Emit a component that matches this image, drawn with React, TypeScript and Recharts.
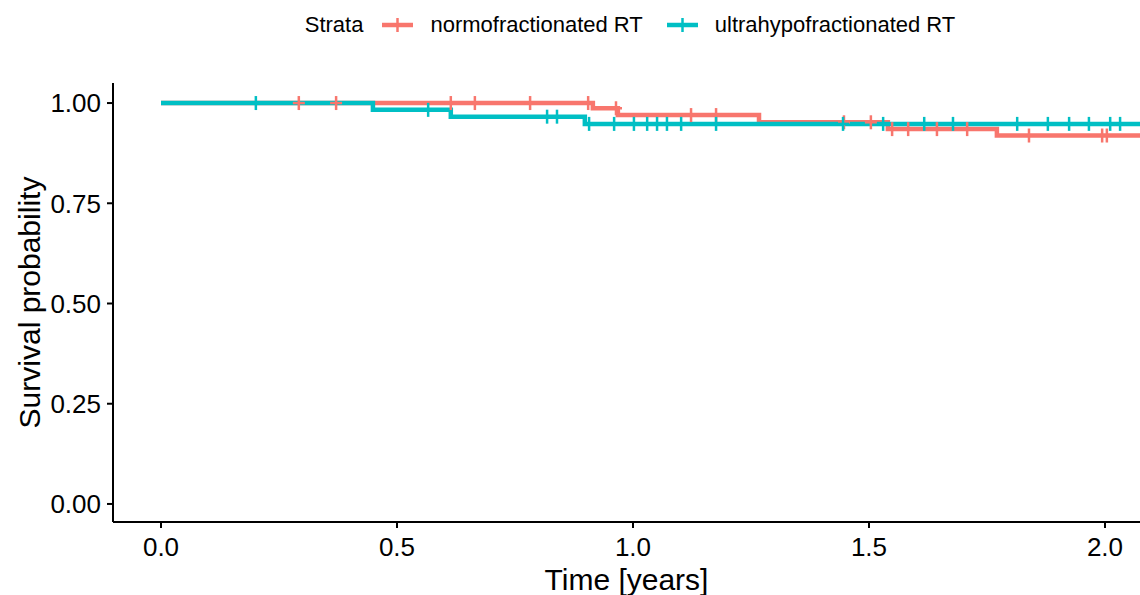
import React from 'react';
import { ComposedChart, Line, Scatter, XAxis, YAxis } from 'recharts';

// Kaplan-Meier step points (time in years, survival probability)
const normoTimes = [0, 0.915, 0.968, 1.267, 1.54, 1.771, 2.1];
const normoSurv = [1, 0.987, 0.97, 0.952, 0.935, 0.919, 0.919];
const normoCensored = [0.292, 0.371, 0.614, 0.665, 0.782, 0.905, 0.964, 1.123, 1.176, 1.447, 1.504, 1.549, 1.583, 1.644, 1.708, 1.839, 1.994, 2.004];

const ultraTimes = [0, 0.449, 0.614, 0.898, 2.1];
const ultraSurv = [1, 0.983, 0.966, 0.948, 0.948];
const ultraCensored = [0.201, 0.566, 0.818, 0.839, 0.907, 0.96, 1.002, 1.03, 1.051, 1.072, 1.102, 1.176, 1.445, 1.53, 1.617, 1.678, 1.814, 1.879, 1.924, 1.966, 2.011, 2.032];

const strata = ['normofractionated RT', 'ultrahypofractionated RT'];
const COLORS = ['#F8766D', '#00BFC4'];

const xTicks = [0, 0.5, 1, 1.5, 2];
const yTicks = [0, 0.25, 0.5, 0.75, 1];

const FONT = '"Liberation Sans", Arial, Helvetica, sans-serif';

const toSteps = (times: number[], surv: number[]) => times.map((t, i) => ({ t, s: surv[i] }));

// survival level the curve holds at time t
const levelAt = (times: number[], surv: number[], t: number) => {
  let s = surv[0];
  times.forEach((tt, i) => {
    if (tt <= t) s = surv[i];
  });
  return s;
};

const toCensor = (times: number[], surv: number[], cens: number[]) =>
  cens.map((t) => ({ t, s: levelAt(times, surv, t) }));

const series = [
  { name: strata[0], color: COLORS[0], steps: toSteps(normoTimes, normoSurv), censor: toCensor(normoTimes, normoSurv, normoCensored) },
  { name: strata[1], color: COLORS[1], steps: toSteps(ultraTimes, ultraSurv), censor: toCensor(ultraTimes, ultraSurv, ultraCensored) },
];

const CensorMark = (color: string) => (props: any) => {
  const { cx, cy } = props;
  if (cx == null || cy == null) return <g />;
  return (
    <g>
      <line x1={cx} x2={cx} y1={cy - 7} y2={cy + 7} stroke={color} strokeWidth={2.5} />
      <line x1={cx - 6} x2={cx + 6} y1={cy} y2={cy} stroke={color} strokeWidth={2.5} />
    </g>
  );
};

const LegendKey = ({ color }: { color: string }) => (
  <svg width={31} height={20} style={{ display: 'block' }}>
    <line x1={0} x2={31} y1={10} y2={10} stroke={color} strokeWidth={4.5} />
    <line x1={15.5} x2={15.5} y1={3} y2={17} stroke={color} strokeWidth={2.5} />
  </svg>
);

const App: React.FC = () => {
  return (
    <div style={{ position: 'absolute', left: 0, top: 0, width: 1140, height: 595, background: '#fff', fontFamily: FONT }}>
      <div
        style={{
          position: 'absolute',
          top: 11,
          left: 0,
          width: 1140,
          paddingLeft: 120,
          boxSizing: 'border-box',
          display: 'flex',
          justifyContent: 'center',
          alignItems: 'center',
          fontSize: 22,
          color: '#000',
          lineHeight: '28px',
        }}
      >
        <span style={{ marginRight: 19 }}>Strata</span>
        {series.map((s, i) => (
          <React.Fragment key={s.name}>
            <LegendKey color={s.color} />
            <span style={{ marginLeft: 17, marginRight: i === 0 ? 24 : 0 }}>{s.name}</span>
          </React.Fragment>
        ))}
      </div>
      <ComposedChart width={1140} height={595} margin={{ top: 83, right: 0, bottom: 0, left: 0 }}>
        <XAxis
          type="number"
          dataKey="t"
          domain={[-0.1017, 2.0742]}
          allowDataOverflow
          ticks={xTicks}
          tickFormatter={(v: number) => v.toFixed(1)}
          height={73}
          axisLine={{ stroke: '#000', strokeWidth: 2 }}
          tickLine={{ stroke: '#000', strokeWidth: 2 }}
          tickSize={6}
          tickMargin={10}
          tick={{ fill: '#000', fontSize: 26, fontFamily: FONT }}
          label={{
            content: (p: any) => (
              <text
                x={p.viewBox.x + p.viewBox.width / 2}
                y={p.viewBox.y + 68}
                textAnchor="middle"
                fontSize={30}
                fontFamily={FONT}
                fill="#000"
              >
                Time [years]
              </text>
            ),
          }}
        />
        <YAxis
          type="number"
          dataKey="s"
          domain={[-0.045, 1.05]}
          allowDataOverflow
          ticks={yTicks}
          tickFormatter={(v: number) => v.toFixed(2)}
          width={113}
          axisLine={{ stroke: '#000', strokeWidth: 2 }}
          tickLine={{ stroke: '#000', strokeWidth: 2 }}
          tickSize={6}
          tickMargin={6}
          tick={{ fill: '#000', fontSize: 26, fontFamily: FONT }}
          label={{
            content: (p: any) => {
              const cx = 29;
              const cy = p.viewBox.y + p.viewBox.height / 2;
              return (
                <text
                  x={cx}
                  y={cy}
                  transform={`rotate(-90 ${cx} ${cy})`}
                  textAnchor="middle"
                  dominantBaseline="central"
                  fontSize={30}
                  fontFamily={FONT}
                  fill="#000"
                >
                  Survival probability
                </text>
              );
            },
          }}
        />
        {series.map((s) => (
          <Line
            key={`line-${s.name}`}
            data={s.steps}
            dataKey="s"
            type="stepAfter"
            stroke={s.color}
            strokeWidth={4.5}
            dot={false}
            activeDot={false}
            isAnimationActive={false}
          />
        ))}
        {series.map((s) => (
          <Scatter
            key={`cens-${s.name}`}
            data={s.censor}
            dataKey="s"
            shape={CensorMark(s.color)}
            isAnimationActive={false}
          />
        ))}
      </ComposedChart>
    </div>
  );
};

export default App;
